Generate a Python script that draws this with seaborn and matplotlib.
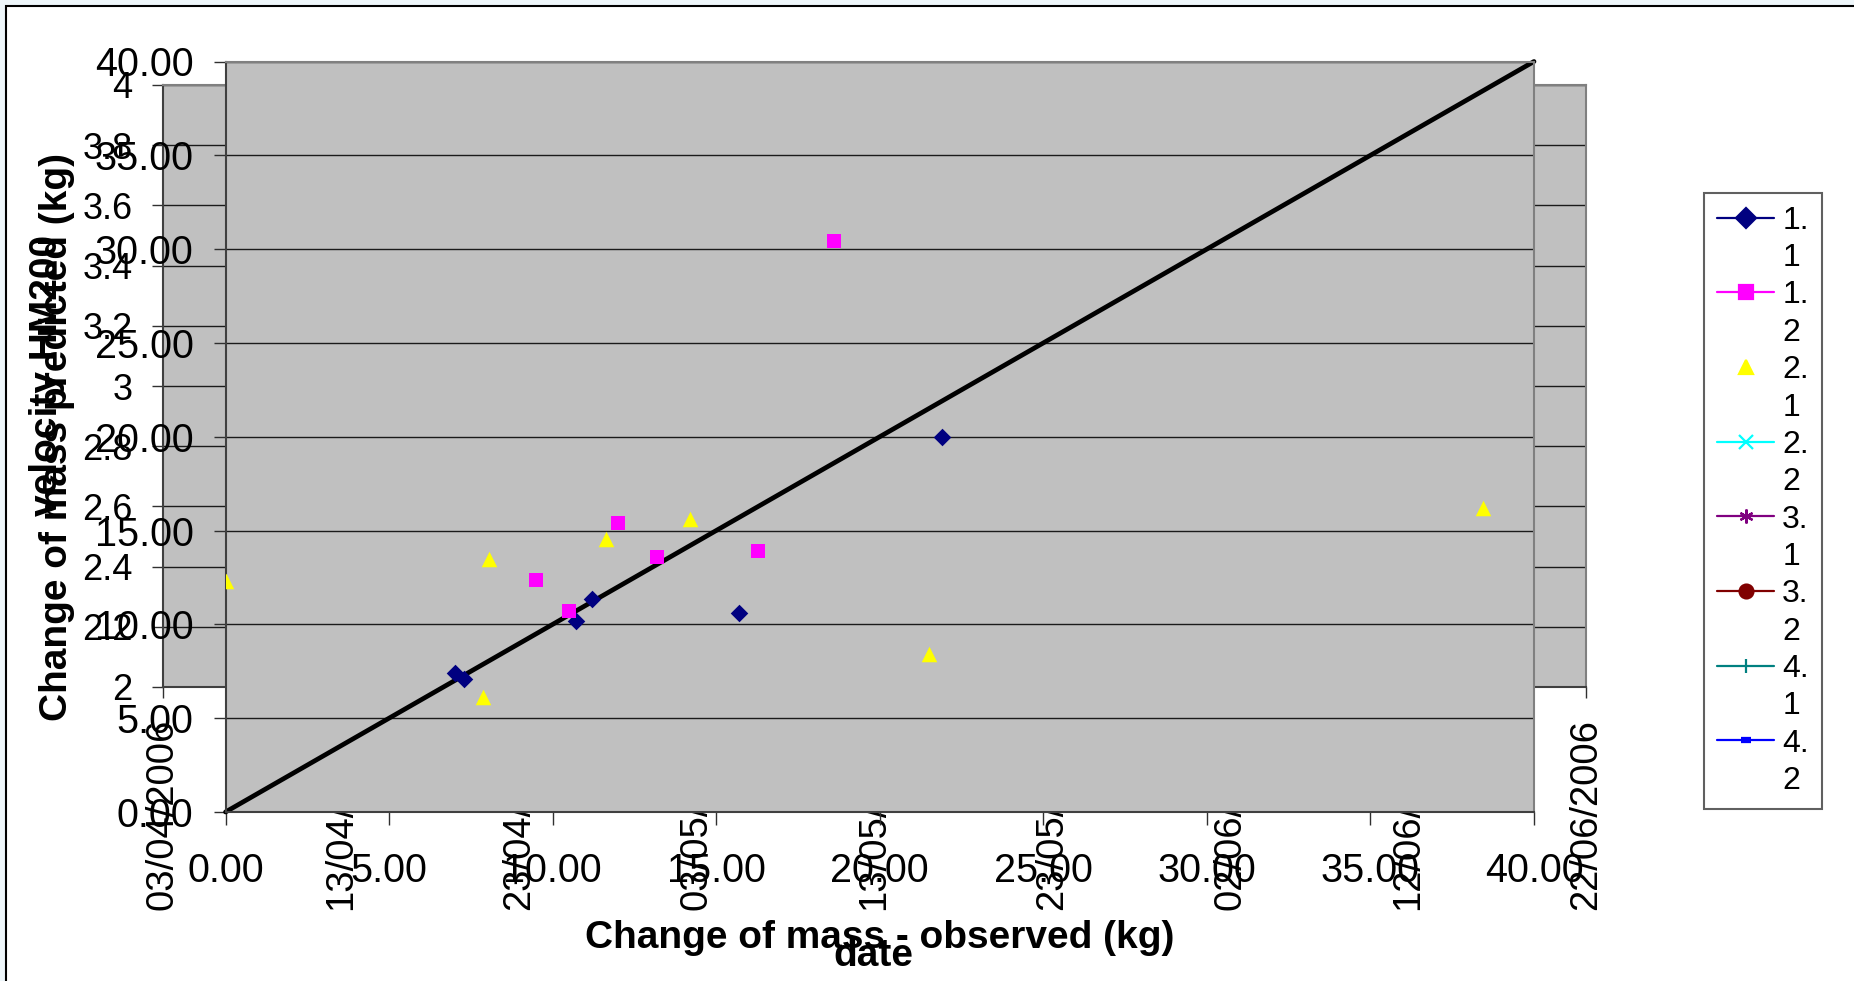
import numpy as np
import pandas as pd
import matplotlib
matplotlib.use("Agg")
import matplotlib.pyplot as plt
import matplotlib.dates as mdates
from matplotlib.lines import Line2D
from matplotlib.patches import Rectangle
from matplotlib.ticker import FuncFormatter, FormatStrFormatter
import seaborn as sns

# ---- data: change of mass, observed vs predicted (kg) ----
obs_11 = [7.02, 7.30, 10.71, 11.20, 15.70, 21.90]
pred_11 = [7.39, 7.07, 10.20, 11.35, 10.61, 20.01]
obs_12 = [9.50, 10.49, 12.00, 13.19, 16.29, 18.60]
pred_12 = [12.35, 10.71, 15.40, 13.61, 13.93, 30.45]
obs_21 = [0.00, 7.87, 8.07, 11.62, 14.21, 21.52, 38.43]
pred_21 = [12.33, 6.11, 13.47, 14.54, 15.62, 8.43, 16.19]

series_names = ["1.1", "1.2", "2.1", "2.2", "3.1", "3.2", "4.1", "4.2"]
series_colors = ["#000080", "#FF00FF", "#FFFF00", "#00FFFF",
                 "#800080", "#800000", "#008080", "#0000FF"]
series_markers = ["D", "s", "^", "x", (6, 2, 0), "o", "|", "_"]
series_has_line = [True, True, False, True, True, True, True, True]

# 1:1 reference line
ref_x = [0, 40]
ref_y = [0, 40]

# velocity chart axes (date vs velocity HM200)
date_start = "2006-04-03"
date_end = "2006-06-22"
date_step = "10D"
vel_min, vel_max, vel_step = 2.0, 4.0, 0.2
mass_min, mass_max, mass_step = 0, 40, 5

# ---- style ----
sns.set_theme(style="white")
plt.rcParams["font.family"] = ["Liberation Sans", "DejaVu Sans"]
plt.rcParams["text.color"] = "black"
plt.rcParams["axes.labelcolor"] = "black"
plt.rcParams["xtick.color"] = "#303030"
plt.rcParams["ytick.color"] = "#303030"
plt.rcParams["xtick.labelcolor"] = "black"
plt.rcParams["ytick.labelcolor"] = "black"

W, H = 1854, 981
fig = plt.figure(figsize=(W / 100, H / 100), dpi=100)
fig.patch.set_facecolor("#EEF6FA")


def px_box(left, top, right, bottom):
    return [left / W, 1 - bottom / H, (right - left) / W, (bottom - top) / H]


# chart area with its border
fig.add_artist(Rectangle((6 / W, -0.1), 1.1, (H - 6) / H + 0.1,
                         transform=fig.transFigure, facecolor="white",
                         edgecolor="black", lw=1.5, zorder=-10))

GRAY = "#C0C0C0"


def style_frame(ax):
    for side in ("left", "bottom"):
        ax.spines[side].set_color("#404040")
        ax.spines[side].set_linewidth(1.5)
    for side in ("top", "right"):
        ax.spines[side].set_color("#808080")
        ax.spines[side].set_linewidth(1.5)
    ax.set_facecolor(GRAY)


# ---- back chart: velocity HM200 by date ----
ax_b = fig.add_axes(px_box(163, 85, 1586, 687))
style_frame(ax_b)
date_ticks = pd.date_range(date_start, date_end, freq=date_step)
ax_b.set_xlim(mdates.date2num(pd.Timestamp(date_start)),
              mdates.date2num(pd.Timestamp(date_end)))
ax_b.set_ylim(vel_min, vel_max)
ax_b.set_xticks(mdates.date2num(date_ticks))
ax_b.set_xticklabels([t.strftime("%d/%m/%Y") for t in date_ticks],
                     rotation=90, fontsize=27.5)
vel_ticks = np.round(np.arange(vel_min, vel_max + vel_step / 2, vel_step), 1)
ax_b.set_yticks(vel_ticks)
ax_b.yaxis.set_major_formatter(FuncFormatter(lambda v, p: f"{v:g}"))
ax_b.tick_params(axis="y", left=True, direction="out", length=8, width=1,
                 labelsize=26, pad=14)
ax_b.tick_params(axis="x", bottom=True, direction="out", length=8, width=1,
                 pad=15)
ax_b.grid(axis="y", color="#1a1a1a", lw=1)
ax_b.grid(axis="x", visible=False)
ax_b.set_xlabel("date", fontsize=28, fontweight="bold", va="baseline")
ax_b.xaxis.set_label_coords(873 / W, 1 - 966 / H, transform=fig.transFigure)
ax_b.set_ylabel("velocity HM200", fontsize=28, fontweight="bold",
                va="center", ha="center")
ax_b.yaxis.set_label_coords(47 / W, 1 - 375 / H, transform=fig.transFigure)

# ---- front chart: predicted vs observed change of mass ----
ax_f = fig.add_axes(px_box(225.5, 61.5, 1534, 812))
style_frame(ax_f)
ax_f.set_xlim(mass_min, mass_max)
ax_f.set_ylim(mass_min, mass_max)
mass_ticks = np.arange(mass_min, mass_max + 1, mass_step)
ax_f.set_xticks(mass_ticks)
ax_f.set_yticks(mass_ticks)
ax_f.xaxis.set_major_formatter(FormatStrFormatter("%.2f"))
ax_f.yaxis.set_major_formatter(FormatStrFormatter("%.2f"))
ax_f.tick_params(axis="y", left=True, direction="out", length=9, width=1,
                 labelsize=28.5, pad=14)
ax_f.tick_params(axis="x", bottom=True, direction="out", length=9, width=1,
                 labelsize=28.5, pad=20)
ax_f.grid(axis="y", color="#1a1a1a", lw=1)
ax_f.grid(axis="x", visible=False)
ax_f.set_axisbelow(True)

ax_f.plot(ref_x, ref_y, color="black", lw=3.4, zorder=2,
          solid_capstyle="round", clip_on=False)

points = [(obs_11, pred_11, 0, 80), (obs_12, pred_12, 1, 92),
          (obs_21, pred_21, 2, 125)]
for xs, ys, idx, size in points:
    df = pd.DataFrame({"observed": xs, "predicted": ys})
    sns.scatterplot(data=df, x="observed", y="predicted",
                    color=series_colors[idx], marker=series_markers[idx],
                    s=size, linewidth=0, ax=ax_f, zorder=3, legend=False)

ax_f.set_xlabel("Change of mass - observed (kg)", fontsize=28,
                fontweight="bold", va="baseline")
ax_f.xaxis.set_label_coords(880 / W, 1 - 948 / H, transform=fig.transFigure)
ax_f.set_ylabel("Change of mass predicted (kg)", fontsize=28,
                fontweight="bold", va="center", ha="center")
ax_f.yaxis.set_label_coords(57 / W, 1 - 437 / H, transform=fig.transFigure)

# ---- legend: series names wrapped over two lines ----
handles, labels = [], []
for name, col, mk, has_line in zip(series_names, series_colors,
                                   series_markers, series_has_line):
    head, tail = name.split(".")
    extra = {"markeredgewidth": 4.5, "markersize": 7} if mk == "_" else \
        {"markeredgewidth": 1.6, "markersize": 10}
    handles.append(Line2D([], [], color=col, marker=mk,
                          linestyle="-" if has_line else "none", lw=1.6,
                          markerfacecolor=col, markeredgecolor=col, **extra))
    labels.append(head + ".")
    handles.append(Line2D([], [], linestyle="none"))
    labels.append(tail)

leg = fig.legend(handles, labels, loc="upper left",
                 bbox_to_anchor=(1704 / W, 1 - 193 / H),
                 frameon=True, fancybox=False, edgecolor="#606060",
                 facecolor="white", framealpha=1, fontsize=23,
                 handlelength=1.8, handletextpad=0.25, labelspacing=0.23,
                 borderpad=0.4, borderaxespad=0)
leg.get_frame().set_linewidth(1.5)

fig.savefig("out.png", dpi=100, facecolor=fig.get_facecolor())
